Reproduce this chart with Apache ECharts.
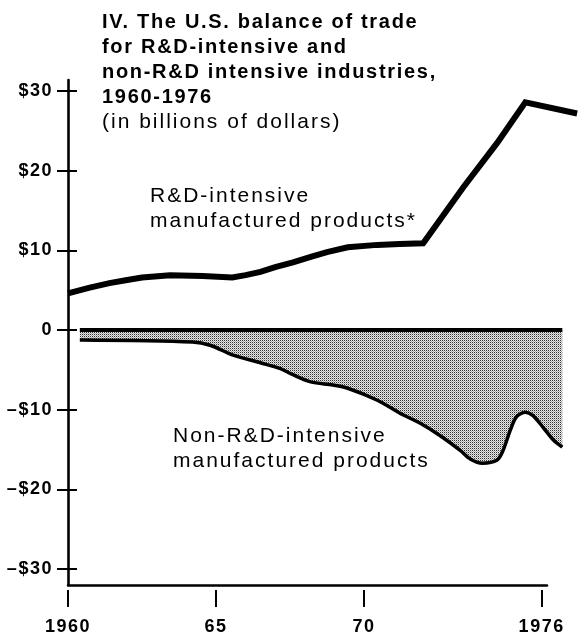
<!DOCTYPE html>
<html>
<head>
<meta charset="utf-8">
<style>
html,body{margin:0;padding:0;background:#fff;}
#chart{width:587px;height:638px;}
</style>
<script src="https://cdn.jsdelivr.net/npm/echarts@6/dist/echarts.min.js"></script>
</head>
<body>
<div id="chart"></div>
<script>
// ---- data ----
const rdYears  = [1960, 1960.7, 1961.4, 1962.0, 1962.5, 1963.45, 1964.55, 1965.55, 1966.0, 1966.5, 1967.0, 1967.6, 1968.2, 1968.75, 1969.45, 1970.45, 1971.2, 1972.0, 1973.35, 1974.5, 1975.45, 1977.2];
const rdValues = [4.6, 5.3, 5.9, 6.3, 6.6, 6.9, 6.8, 6.6, 6.9, 7.3, 7.9, 8.5, 9.2, 9.8, 10.4, 10.7, 10.8, 10.9, 17.9, 23.5, 28.6, 27.2];

const nonYears  = [1960.4, 1964.2, 1964.8, 1965.55, 1966.5, 1967.15, 1967.6, 1968.2, 1968.95, 1969.45, 1970.45, 1971.2, 1971.9, 1972.55, 1973.25, 1973.6, 1974.0, 1974.5, 1974.7, 1974.95, 1975.15, 1975.45, 1975.7, 1976.05, 1976.4, 1976.7];
const nonValues = [-1.25, -1.5, -1.9, -3.1, -4.1, -4.8, -5.6, -6.5, -6.9, -7.3, -8.8, -10.4, -11.7, -13.2, -15.1, -16.2, -16.7, -16.3, -15.1, -12.5, -10.9, -10.3, -10.7, -12.2, -13.8, -14.7];

const zeroYears  = [1960.4, 1976.7];
const zeroValues = [0, 0];

const yTicks = [-30, -20, -10, 0, 10, 20, 30];
const xTicks = [1960, 1965, 1970, 1976];
const xTickLabels = ['1960', '65', '70', '1976'];

const titleLines = ['IV. The U.S. balance of trade', 'for R&D-intensive and', 'non-R&D intensive industries,', '1960-1976'];
const subtitle = '(in billions of dollars)';
const rdLabel = ['R&D-intensive', 'manufactured products*'];
const nonLabel = ['Non-R&D-intensive', 'manufactured products'];

// ---- letter spacing to match the typeset look ----
(function () {
  const P = CanvasRenderingContext2D.prototype;
  if (!('letterSpacing' in P)) return;
  function set(ctx) {
    const f = ctx.font || '';
    const m = /([\d.]+)px/.exec(f);
    const sz = m ? parseFloat(m[1]) : 12;
    const bold = /bold|[6-9]00/.test(f);
    ctx.letterSpacing = (sz * (bold ? 0.085 : 0.095)).toFixed(2) + 'px';
  }
  ['fillText', 'strokeText', 'measureText'].forEach(function (n) {
    const o = P[n];
    P[n] = function () { set(this); return o.apply(this, arguments); };
  });
})();

function zip(xs, ys) { return xs.map((x, i) => [x, ys[i]]); }

// stipple pattern
const pat = document.createElement('canvas');
pat.width = 2; pat.height = 2;
(function () {
  const c = pat.getContext('2d');
  c.fillStyle = '#e6e6e6'; c.fillRect(0, 0, 2, 2);
  c.fillStyle = '#333333'; c.fillRect(0, 0, 1, 1);
  c.fillStyle = '#a8a8a8'; c.fillRect(1, 1, 1, 1);
})();

const FONT = '"Liberation Sans", Arial, Helvetica, sans-serif';
const fmtY = v => v === 0 ? '0' : (v < 0 ? '\u2013$' + (-v) : '$' + v);

const X_MIN = 1960, DATA_X_MAX = 1977.568, DATA_W = 520;
const TICK_IN = 9 * (DATA_X_MAX - X_MIN) / DATA_W; // 9px expressed in years

const chart = echarts.init(document.getElementById('chart'), null, { renderer: 'canvas' });

const option = {
  backgroundColor: '#fff',
  animation: false,
  grid: [
    { left: 68, top: 80, width: 479, height: 505, containLabel: false, outerBoundsMode: 'none' },
    { left: 68, top: 80, width: DATA_W, height: 505, containLabel: false, outerBoundsMode: 'none' }
  ],
  xAxis: [
    { // visible axis line
      type: 'value', gridIndex: 0, min: X_MIN, max: 1976.18, position: 'bottom',
      axisLine: { show: true, onZero: false, lineStyle: { color: '#000', width: 2.5 } },
      axisTick: { show: false }, axisLabel: { show: false }, splitLine: { show: false }
    },
    { // ticks and labels, slightly detached below the line
      type: 'value', gridIndex: 0, min: X_MIN, max: 1976.18, position: 'bottom', offset: 5,
      axisLine: { show: false, onZero: false },
      axisTick: { show: true, length: 17, customValues: xTicks, lineStyle: { color: '#000', width: 2 } },
      axisLabel: {
        show: true, customValues: xTicks, margin: 27,
        formatter: v => xTickLabels[xTicks.indexOf(v)],
        color: '#000', fontFamily: FONT, fontWeight: 'bold', fontSize: 18
      },
      splitLine: { show: false }
    },
    { // data axis
      type: 'value', gridIndex: 1, min: X_MIN, max: DATA_X_MAX, show: false
    }
  ],
  yAxis: [
    {
      type: 'value', gridIndex: 0, min: -32, max: 31.4, position: 'left',
      axisLine: { show: true, onZero: false, lineStyle: { color: '#000', width: 2.6 } },
      axisTick: { show: true, length: 11, customValues: yTicks, lineStyle: { color: '#000', width: 2 } },
      axisLabel: {
        show: true, customValues: yTicks, margin: 15, formatter: fmtY,
        color: '#000', fontFamily: FONT, fontWeight: 'bold', fontSize: 18
      },
      splitLine: { show: false }
    },
    { // data axis
      type: 'value', gridIndex: 1, min: -32, max: 31.4, show: false
    }
  ],
  series: [
    {
      name: 'Non-R&D-intensive manufactured products', type: 'line',
      xAxisIndex: 2, yAxisIndex: 1,
      data: zip(nonYears, nonValues),
      smooth: 0.3, symbol: 'none',
      lineStyle: { color: '#000', width: 3.5 },
      areaStyle: { color: { image: pat, repeat: 'repeat' }, opacity: 1 },
      z: 2
    },
    {
      name: 'zero', type: 'line',
      xAxisIndex: 2, yAxisIndex: 1,
      data: zip(zeroYears, zeroValues),
      symbol: 'none',
      lineStyle: { color: '#000', width: 4, cap: 'butt' },
      // right-hand half of the crossing y-axis ticks
      markLine: {
        silent: true, symbol: 'none', animation: false,
        label: { show: false },
        lineStyle: { color: '#000', width: 2, type: 'solid' },
        emphasis: { disabled: true },
        data: yTicks.map(v => [{ coord: [X_MIN, v] }, { coord: [X_MIN + TICK_IN, v] }])
      },
      z: 3
    },
    {
      name: 'R&D-intensive manufactured products', type: 'line',
      xAxisIndex: 2, yAxisIndex: 1,
      data: zip(rdYears, rdValues),
      smooth: false, symbol: 'none',
      lineStyle: { color: '#000', width: 6, join: 'miter' },
      z: 4
    }
  ],
  graphic: [
    {
      type: 'text', left: 102, top: 9.5,
      style: { text: titleLines.join('\n'), font: 'bold 20px ' + FONT, lineHeight: 25, fill: '#000' }
    },
    {
      type: 'text', left: 102, top: 109.5,
      style: { text: subtitle, font: '21px ' + FONT, lineHeight: 25, fill: '#000' }
    },
    {
      type: 'text', left: 150, top: 183.5,
      style: { text: rdLabel.join('\n'), font: '21px ' + FONT, lineHeight: 25, fill: '#000' }
    },
    {
      type: 'text', left: 173, top: 423.5,
      style: { text: nonLabel.join('\n'), font: '21px ' + FONT, lineHeight: 25, fill: '#000' }
    }
  ]
};
chart.setOption(option);
</script>
</body>
</html>
